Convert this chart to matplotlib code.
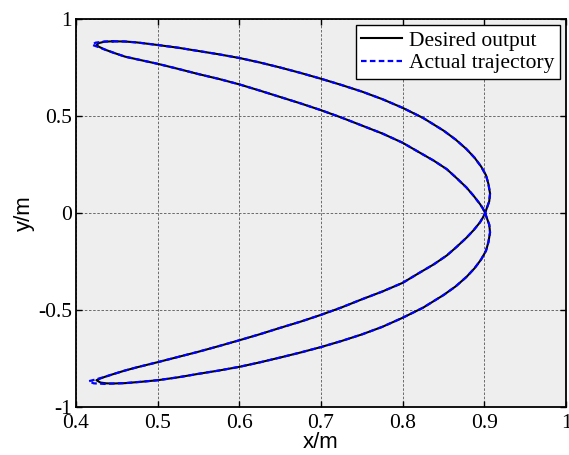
import matplotlib
matplotlib.use('Agg')
import matplotlib.pyplot as plt

# values, one branch at a time
# outer upper branch: from the top tip to the crossing at (0.9, 0)
outerUpX = [0.445, 0.460, 0.475, 0.500, 0.525, 0.550, 0.575, 0.600, 0.625, 0.650,
            0.675, 0.700, 0.725, 0.750, 0.775, 0.800, 0.825, 0.850, 0.865, 0.878,
            0.888, 0.896, 0.902, 0.905, 0.907, 0.906, 0.903, 0.901]
outerUpY = [0.885, 0.884, 0.879, 0.866, 0.852, 0.835, 0.818, 0.799, 0.776, 0.750,
            0.722, 0.692, 0.660, 0.626, 0.587, 0.542, 0.490, 0.425, 0.378, 0.330,
            0.285, 0.240, 0.195, 0.150, 0.100, 0.060, 0.025, 0.000]
# inner lower branch: from the crossing to the bottom tip
innerLowX = [0.898, 0.8947, 0.887, 0.878, 0.866, 0.854, 0.838, 0.821, 0.800, 0.775,
             0.750, 0.725, 0.700, 0.675, 0.650, 0.625, 0.600, 0.575, 0.550, 0.525,
             0.500, 0.475, 0.460, 0.446, 0.435]
innerLowY = [-0.025, -0.048, -0.088, -0.128, -0.175, -0.219, -0.265, -0.307, -0.360, -0.405,
             -0.445, -0.487, -0.525, -0.560, -0.592, -0.625, -0.656, -0.686, -0.715, -0.742,
             -0.769, -0.795, -0.812, -0.830, -0.845]
# outer lower branch: from the bottom tip to the crossing
outerLowX = [0.445, 0.460, 0.480, 0.500, 0.525, 0.550, 0.575, 0.600, 0.625, 0.650,
             0.675, 0.700, 0.725, 0.750, 0.775, 0.800, 0.825, 0.850, 0.865, 0.878,
             0.888, 0.896, 0.902, 0.905, 0.907, 0.906, 0.903, 0.901]
outerLowY = [-0.879, -0.877, -0.870, -0.862, -0.847, -0.829, -0.812, -0.793, -0.770, -0.745,
             -0.719, -0.691, -0.660, -0.626, -0.587, -0.540, -0.488, -0.423, -0.378, -0.330,
             -0.285, -0.240, -0.195, -0.150, -0.100, -0.060, -0.025, 0.000]
# inner upper branch: from the crossing back to the top tip
innerUpX = [0.898, 0.8947, 0.887, 0.878, 0.866, 0.854, 0.838, 0.821, 0.800, 0.775,
            0.750, 0.725, 0.700, 0.675, 0.650, 0.625, 0.600, 0.575, 0.550, 0.525,
            0.500, 0.475, 0.460, 0.446, 0.435]
innerUpY = [0.025, 0.046, 0.088, 0.132, 0.180, 0.226, 0.270, 0.311, 0.362, 0.410,
            0.451, 0.492, 0.530, 0.565, 0.598, 0.631, 0.663, 0.691, 0.716, 0.743,
            0.769, 0.792, 0.806, 0.826, 0.843]

# tips: the actual trajectory overshoots a little to the left
topTipDesX = [0.428, 0.425, 0.428, 0.435]
topTipDesY = [0.857, 0.866, 0.876, 0.883]
topTipActX = [0.427, 0.4197, 0.424, 0.435]
topTipActY = [0.856, 0.867, 0.878, 0.884]
botTipDesX = [0.428, 0.425, 0.430, 0.437]
botTipDesY = [-0.856, -0.862, -0.874, -0.878]
botTipActX = [0.425, 0.4156, 0.4217, 0.435]
botTipActY = [-0.857, -0.867, -0.878, -0.881]

xTicks = [0.4, 0.5, 0.6, 0.7, 0.8, 0.9, 1.0]
xTickLabels = ['0.4', '0.5', '0.6', '0.7', '0.8', '0.9', '1']
yTicks = [-1, -0.5, 0, 0.5, 1]
yTickLabels = ['-1', '-0.5', '0', '0.5', '1']

xDes = outerUpX + innerLowX + botTipDesX + outerLowX + innerUpX + topTipDesX + outerUpX[:1]
yDes = outerUpY + innerLowY + botTipDesY + outerLowY + innerUpY + topTipDesY + outerUpY[:1]
xAct = outerUpX + innerLowX + botTipActX + outerLowX + innerUpX + topTipActX + outerUpX[:1]
yAct = outerUpY + innerLowY + botTipActY + outerLowY + innerUpY + topTipActY + outerUpY[:1]

serif = 'Liberation Serif'
sans = 'Liberation Sans'

fig = plt.figure(figsize=(5.69, 4.55), dpi=100)
ax1 = fig.add_axes([76 / 569, 1 - 407 / 455, 490 / 569, 388 / 455])
ax1.set_facecolor('#eeeeee')

ax1.plot(xDes, yDes, color='black', lw=1.5, label='Desired output')
ax1.plot(xAct, yAct, color='blue', lw=1.6, ls=(0, (2.5, 1.5)), label='Actual trajectory')

ax1.set_xlim(0.4, 1.0)
ax1.set_ylim(-1, 1)
ax1.set_xticks(xTicks)
ax1.set_xticklabels(xTickLabels, fontfamily=serif, fontsize=15.5)
ax1.set_yticks(yTicks)
ax1.set_yticklabels(yTickLabels, fontfamily=serif, fontsize=15.5)
ax1.tick_params(direction='in', top=True, right=True, length=4, width=1)
ax1.tick_params(axis='x', pad=5)
ax1.tick_params(axis='y', pad=3)
ax1.grid(True, color='#555555', ls=(0, (3, 2)), lw=0.6)
for s in ax1.spines.values():
    s.set_linewidth(1.3)

ax1.set_xlabel('x/m', fontfamily=sans, fontsize=16, labelpad=-1)
ax1.set_ylabel('y/m', fontfamily=sans, fontsize=16, labelpad=2)

leg = ax1.legend(loc='upper right', prop={'family': serif, 'size': 15.5}, fancybox=False,
                 framealpha=1, edgecolor='black', handlelength=1.9, handletextpad=0.3,
                 borderpad=0.25, labelspacing=0.1, borderaxespad=0.3)
leg.get_frame().set_linewidth(1.0)

fig.savefig('out.png', dpi=100)
